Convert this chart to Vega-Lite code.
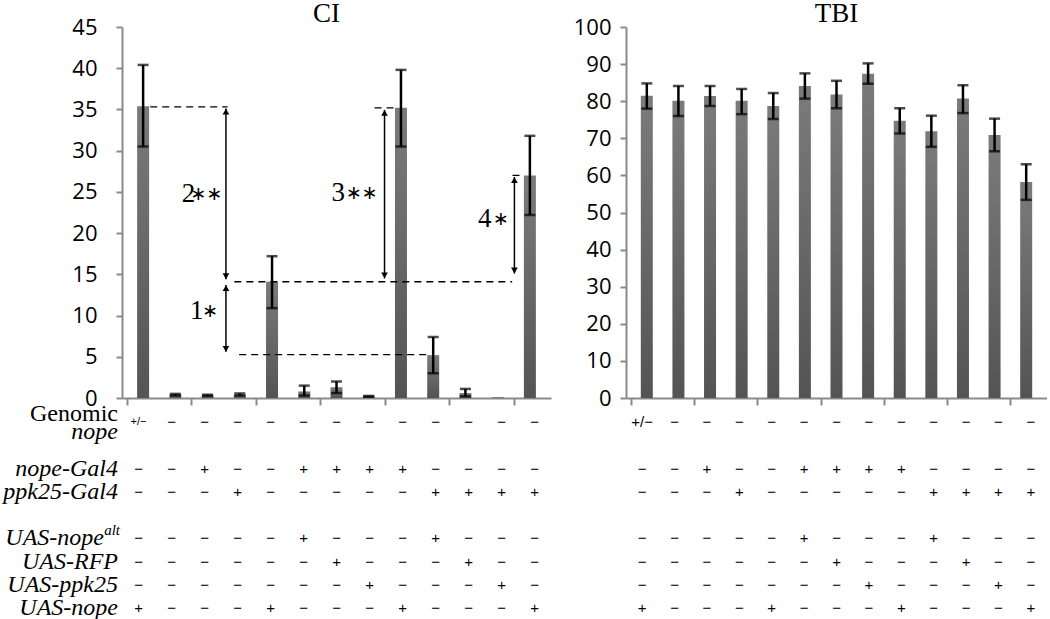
{
  "$schema": "https://vega.github.io/schema/vega-lite/v6.json",
  "background": "white",
  "padding": {"left": 3, "top": 0, "right": 0, "bottom": 0},
  "columns": 2,
  "spacing": {"row": 0, "column": 75},
  "bounds": "flush",
  "align": "each",
  "config": {
    "view": {"stroke": null},
    "axis": {
      "domainColor": "#8a8a8a", "domainWidth": 2,
      "tickColor": "#8a8a8a", "tickWidth": 2,
      "labelFont": "Open Sans", "labelFontSize": 22, "labelColor": "black", "labelOverlap": false,
      "grid": false, "title": null
    },
    "axisY": {"labelOverlap": false, "labelBound": false, "labelFlush": false}
  },
  "datasets": {
    "geno": [
      {"g": 1, "ci": 35.4, "ci_lo": 30.5, "ci_hi": 40.4, "tbi": 81.5, "tbi_lo": 78.0, "tbi_hi": 84.8, "genomic": "+/−", "nope_gal4": "−", "ppk25_gal4": "−", "uas_nope_alt": "−", "uas_rfp": "−", "uas_ppk25": "−", "uas_nope": "+"},
      {"g": 2, "ci": 0.4, "ci_lo": 0.3, "ci_hi": 0.5, "tbi": 80.1, "tbi_lo": 76.0, "tbi_hi": 84.1, "genomic": "−", "nope_gal4": "−", "ppk25_gal4": "−", "uas_nope_alt": "−", "uas_rfp": "−", "uas_ppk25": "−", "uas_nope": "−"},
      {"g": 3, "ci": 0.3, "ci_lo": 0.25, "ci_hi": 0.4, "tbi": 81.4, "tbi_lo": 78.7, "tbi_hi": 84.1, "genomic": "−", "nope_gal4": "+", "ppk25_gal4": "−", "uas_nope_alt": "−", "uas_rfp": "−", "uas_ppk25": "−", "uas_nope": "−"},
      {"g": 4, "ci": 0.4, "ci_lo": 0.3, "ci_hi": 0.55, "tbi": 80.1, "tbi_lo": 76.5, "tbi_hi": 83.3, "genomic": "−", "nope_gal4": "−", "ppk25_gal4": "+", "uas_nope_alt": "−", "uas_rfp": "−", "uas_ppk25": "−", "uas_nope": "−"},
      {"g": 5, "ci": 14.1, "ci_lo": 10.9, "ci_hi": 17.2, "tbi": 78.7, "tbi_lo": 75.2, "tbi_hi": 82.2, "genomic": "−", "nope_gal4": "−", "ppk25_gal4": "−", "uas_nope_alt": "−", "uas_rfp": "−", "uas_ppk25": "−", "uas_nope": "+"},
      {"g": 6, "ci": 0.8, "ci_lo": 0.3, "ci_hi": 1.5, "tbi": 84.1, "tbi_lo": 80.7, "tbi_hi": 87.5, "genomic": "−", "nope_gal4": "+", "ppk25_gal4": "−", "uas_nope_alt": "+", "uas_rfp": "−", "uas_ppk25": "−", "uas_nope": "−"},
      {"g": 7, "ci": 1.3, "ci_lo": 0.6, "ci_hi": 2.0, "tbi": 81.8, "tbi_lo": 78.1, "tbi_hi": 85.5, "genomic": "−", "nope_gal4": "+", "ppk25_gal4": "−", "uas_nope_alt": "−", "uas_rfp": "+", "uas_ppk25": "−", "uas_nope": "−"},
      {"g": 8, "ci": 0.2, "ci_lo": 0.15, "ci_hi": 0.25, "tbi": 87.4, "tbi_lo": 84.7, "tbi_hi": 90.2, "genomic": "−", "nope_gal4": "+", "ppk25_gal4": "−", "uas_nope_alt": "−", "uas_rfp": "−", "uas_ppk25": "+", "uas_nope": "−"},
      {"g": 9, "ci": 35.2, "ci_lo": 30.5, "ci_hi": 39.8, "tbi": 74.7, "tbi_lo": 71.3, "tbi_hi": 78.1, "genomic": "−", "nope_gal4": "+", "ppk25_gal4": "−", "uas_nope_alt": "−", "uas_rfp": "−", "uas_ppk25": "−", "uas_nope": "+"},
      {"g": 10, "ci": 5.2, "ci_lo": 3.0, "ci_hi": 7.4, "tbi": 71.9, "tbi_lo": 67.7, "tbi_hi": 76.1, "genomic": "−", "nope_gal4": "−", "ppk25_gal4": "+", "uas_nope_alt": "+", "uas_rfp": "−", "uas_ppk25": "−", "uas_nope": "−"},
      {"g": 11, "ci": 0.6, "ci_lo": 0.2, "ci_hi": 1.1, "tbi": 80.7, "tbi_lo": 76.8, "tbi_hi": 84.3, "genomic": "−", "nope_gal4": "−", "ppk25_gal4": "+", "uas_nope_alt": "−", "uas_rfp": "+", "uas_ppk25": "−", "uas_nope": "−"},
      {"g": 12, "ci": 0.1, "ci_lo": null, "ci_hi": null, "tbi": 70.9, "tbi_lo": 66.5, "tbi_hi": 75.3, "genomic": "−", "nope_gal4": "−", "ppk25_gal4": "+", "uas_nope_alt": "−", "uas_rfp": "−", "uas_ppk25": "+", "uas_nope": "−"},
      {"g": 13, "ci": 27.0, "ci_lo": 22.2, "ci_hi": 31.8, "tbi": 58.2, "tbi_lo": 53.4, "tbi_hi": 63.0, "genomic": "−", "nope_gal4": "−", "ppk25_gal4": "+", "uas_nope_alt": "−", "uas_rfp": "−", "uas_ppk25": "−", "uas_nope": "+"}
    ]
  },
  "concat": [
    {
      "width": 429, "height": 371,
      "title": {"text": "CI", "font": "Liberation Serif", "fontSize": 27, "fontWeight": "normal", "color": "black", "offset": -12, "dx": -10},
      "layer": [
        {
          "data": {"name": "geno"},
          "mark": {"type": "bar", "orient": "vertical", "size": 12,
            "color": {"gradient": "linear", "x1": 0, "y1": 0, "x2": 0, "y2": 1, "stops": [{"offset": 0, "color": "#7b7b7b"}, {"offset": 1, "color": "#545454"}]}},
          "encoding": {
            "x": {"field": "g", "type": "quantitative", "scale": {"domain": [0.5, 13.5], "nice": false, "zero": false},
              "axis": {"values": [0.5, 1.5, 2.5, 3.5, 4.5, 5.5, 6.5, 7.5, 8.5, 9.5, 10.5, 11.5, 12.5, 13.5], "labels": false, "tickSize": 7}},
            "y": {"field": "ci", "type": "quantitative", "scale": {"domain": [0, 45], "nice": false},
              "axis": {"values": [0, 5, 10, 15, 20, 25, 30, 35, 40, 45], "tickSize": 6, "labelPadding": 19, "labelOverlap": false}}
          }
        },
        {
          "data": {"name": "geno"},
          "mark": {"type": "rule", "color": "black", "strokeWidth": 2.5},
          "encoding": {
            "x": {"field": "g", "type": "quantitative"},
            "y": {"field": "ci_lo", "type": "quantitative"},
            "y2": {"field": "ci_hi"}
          }
        },
        {
          "data": {"name": "geno"},
          "mark": {"type": "tick", "orient": "horizontal", "size": 11, "thickness": 2.5, "color": "black"},
          "encoding": {"x": {"field": "g", "type": "quantitative"}, "y": {"field": "ci_lo", "type": "quantitative"}}
        },
        {
          "data": {"name": "geno"},
          "mark": {"type": "tick", "orient": "horizontal", "size": 11, "thickness": 2.5, "color": "black"},
          "encoding": {"x": {"field": "g", "type": "quantitative"}, "y": {"field": "ci_hi", "type": "quantitative"}}
        },
        {
          "data": {"values": [
            {"x": 1.22, "x2": 3.62, "y": 35.3},
            {"x": 3.83, "x2": 12.45, "y": 14.1},
            {"x": 3.98, "x2": 9.82, "y": 5.25},
            {"x": 8.18, "x2": 8.82, "y": 35.2},
            {"x": 12.46, "x2": 12.82, "y": 27.0}
          ]},
          "mark": {"type": "rule", "color": "black", "strokeWidth": 1.3, "strokeDash": [7, 5]},
          "encoding": {
            "x": {"field": "x", "type": "quantitative"},
            "x2": {"field": "x2"},
            "y": {"field": "y", "type": "quantitative"}
          }
        },
        {
          "data": {"values": [
            {"x": 3.57, "top": 35.1, "bottom": 14.4},
            {"x": 3.57, "top": 13.7, "bottom": 5.6},
            {"x": 8.49, "top": 34.95, "bottom": 14.5},
            {"x": 12.52, "top": 26.8, "bottom": 15.1}
          ]},
          "layer": [
            {
              "mark": {"type": "rule", "color": "black", "strokeWidth": 1.5},
              "encoding": {
                "x": {"field": "x", "type": "quantitative"},
                "y": {"field": "top", "type": "quantitative"},
                "y2": {"field": "bottom"}
              }
            },
            {
              "mark": {"type": "point", "shape": "triangle-up", "filled": true, "color": "black", "size": 45, "opacity": 1, "yOffset": 3},
              "encoding": {
                "x": {"field": "x", "type": "quantitative"},
                "y": {"field": "top", "type": "quantitative"}
              }
            },
            {
              "mark": {"type": "point", "shape": "triangle-down", "filled": true, "color": "black", "size": 45, "opacity": 1, "yOffset": -3},
              "encoding": {
                "x": {"field": "x", "type": "quantitative"},
                "y": {"field": "bottom", "type": "quantitative"}
              }
            }
          ]
        },
        {
          "data": {"values": [
            {"nx": 2.62, "sx": 3.46, "y": 24.75, "n": "2", "s": "∗∗"},
            {"nx": 2.87, "sx": 3.33, "y": 10.6, "n": "1", "s": "∗"},
            {"nx": 7.26, "sx": 8.28, "y": 24.9, "n": "3", "s": "∗∗"},
            {"nx": 11.81, "sx": 12.35, "y": 21.7, "n": "4", "s": "∗"}
          ]},
          "layer": [
            {
              "mark": {"type": "text", "font": "Liberation Serif", "fontSize": 27, "align": "right", "baseline": "middle", "color": "black"},
              "encoding": {
                "x": {"field": "nx", "type": "quantitative"},
                "y": {"field": "y", "type": "quantitative"},
                "text": {"field": "n"}
              }
            },
            {
              "mark": {"type": "text", "font": "DejaVu Sans", "fontSize": 19, "align": "right", "baseline": "middle", "color": "black"},
              "encoding": {
                "x": {"field": "sx", "type": "quantitative"},
                "y": {"field": "y", "type": "quantitative"},
                "text": {"field": "s"}
              }
            }
          ]
        }
      ]
    },
    {
      "width": 421, "height": 371,
      "title": {"text": "TBI", "font": "Liberation Serif", "fontSize": 27, "fontWeight": "normal", "color": "black", "offset": -12},
      "layer": [
        {
          "data": {"name": "geno"},
          "mark": {"type": "bar", "orient": "vertical", "size": 12,
            "color": {"gradient": "linear", "x1": 0, "y1": 0, "x2": 0, "y2": 1, "stops": [{"offset": 0, "color": "#7b7b7b"}, {"offset": 1, "color": "#545454"}]}},
          "encoding": {
            "x": {"field": "g", "type": "quantitative", "scale": {"domain": [0.5, 13.5], "nice": false, "zero": false},
              "axis": {"values": [0.5, 1.5, 2.5, 3.5, 4.5, 5.5, 6.5, 7.5, 8.5, 9.5, 10.5, 11.5, 12.5, 13.5], "labels": false, "tickSize": 7}},
            "y": {"field": "tbi", "type": "quantitative", "scale": {"domain": [0, 100], "nice": false},
              "axis": {"values": [0, 10, 20, 30, 40, 50, 60, 70, 80, 90, 100], "tickCount": 11, "tickSize": 6, "labelPadding": 9, "labelOverlap": false, "labelSeparation": 0, "labelLineHeight": 20}}
          }
        },
        {
          "data": {"name": "geno"},
          "mark": {"type": "rule", "color": "black", "strokeWidth": 2.5},
          "encoding": {
            "x": {"field": "g", "type": "quantitative"},
            "y": {"field": "tbi_lo", "type": "quantitative"},
            "y2": {"field": "tbi_hi"}
          }
        },
        {
          "data": {"name": "geno"},
          "mark": {"type": "tick", "orient": "horizontal", "size": 11, "thickness": 2.5, "color": "black"},
          "encoding": {"x": {"field": "g", "type": "quantitative"}, "y": {"field": "tbi_lo", "type": "quantitative"}}
        },
        {
          "data": {"name": "geno"},
          "mark": {"type": "tick", "orient": "horizontal", "size": 11, "thickness": 2.5, "color": "black"},
          "encoding": {"x": {"field": "g", "type": "quantitative"}, "y": {"field": "tbi_hi", "type": "quantitative"}}
        }
      ]
    },
    {
      "width": 429, "height": 215,
      "layer": [
        {
          "data": {"name": "geno"},
          "transform": [{"fold": ["genomic", "nope_gal4", "ppk25_gal4", "uas_nope_alt", "uas_rfp", "uas_ppk25", "uas_nope"], "as": ["key", "value"]}],
          "mark": {"type": "text", "font": "Liberation Sans", "baseline": "middle", "align": "center", "color": "black"},
          "encoding": {
            "x": {"field": "g", "type": "quantitative", "scale": {"domain": [0.5, 13.5], "nice": false, "zero": false}, "axis": null},
            "y": {"field": "key", "type": "nominal",
              "scale": {"type": "point", "domain": ["genomic", "gap1", "nope_gal4", "ppk25_gal4", "gap2", "uas_nope_alt", "uas_rfp", "uas_ppk25", "uas_nope"], "padding": 0.6237, "align": 0.8276},
              "axis": null},
            "text": {"field": "value"},
            "size": {"condition": {"test": "length(datum.value) > 1", "value": 11}, "value": 15}
          }
        },
        {
          "data": {"values": [
            {"key": "nope_gal4", "label": "nope-Gal4"},
            {"key": "ppk25_gal4", "label": "ppk25-Gal4"},
            {"key": "uas_rfp", "label": "UAS-RFP"},
            {"key": "uas_ppk25", "label": "UAS-ppk25"},
            {"key": "uas_nope", "label": "UAS-nope"}
          ]},
          "mark": {"type": "text", "font": "Liberation Serif", "fontStyle": "italic", "fontSize": 24, "align": "right", "baseline": "middle", "dx": -4, "color": "black"},
          "encoding": {
            "x": {"datum": 0.5, "type": "quantitative"},
            "y": {"field": "key", "type": "nominal"},
            "text": {"field": "label"}
          }
        },
        {
          "data": {"values": [{"key": "genomic", "label": "Genomic"}]},
          "mark": {"type": "text", "font": "Liberation Serif", "fontSize": 24, "align": "right", "baseline": "middle", "dx": -4, "dy": -8, "color": "black"},
          "encoding": {
            "x": {"datum": 0.5, "type": "quantitative"},
            "y": {"field": "key", "type": "nominal"},
            "text": {"field": "label"}
          }
        },
        {
          "data": {"values": [{"key": "genomic", "label": "nope"}]},
          "mark": {"type": "text", "font": "Liberation Serif", "fontStyle": "italic", "fontSize": 24, "align": "right", "baseline": "middle", "dx": -4, "dy": 10, "color": "black"},
          "encoding": {
            "x": {"datum": 0.5, "type": "quantitative"},
            "y": {"field": "key", "type": "nominal"},
            "text": {"field": "label"}
          }
        },
        {
          "data": {"values": [{"key": "uas_nope_alt", "label": "UAS-nope"}]},
          "mark": {"type": "text", "font": "Liberation Serif", "fontStyle": "italic", "fontSize": 24, "align": "right", "baseline": "middle", "dx": -18, "color": "black"},
          "encoding": {
            "x": {"datum": 0.5, "type": "quantitative"},
            "y": {"field": "key", "type": "nominal"},
            "text": {"field": "label"}
          }
        },
        {
          "data": {"values": [{"key": "uas_nope_alt", "label": "alt"}]},
          "mark": {"type": "text", "font": "Liberation Serif", "fontStyle": "italic", "fontSize": 15, "align": "right", "baseline": "middle", "dx": -2, "dy": -8, "color": "black"},
          "encoding": {
            "x": {"datum": 0.5, "type": "quantitative"},
            "y": {"field": "key", "type": "nominal"},
            "text": {"field": "label"}
          }
        }
      ]
    },
    {
      "width": 421, "height": 215,
      "data": {"name": "geno"},
      "transform": [{"fold": ["genomic", "nope_gal4", "ppk25_gal4", "uas_nope_alt", "uas_rfp", "uas_ppk25", "uas_nope"], "as": ["key", "value"]}],
      "mark": {"type": "text", "font": "Liberation Sans", "baseline": "middle", "align": "center", "color": "black"},
      "encoding": {
        "x": {"field": "g", "type": "quantitative", "scale": {"domain": [0.5, 13.5], "nice": false, "zero": false}, "axis": null},
        "y": {"field": "key", "type": "nominal",
          "scale": {"type": "point", "domain": ["genomic", "gap1", "nope_gal4", "ppk25_gal4", "gap2", "uas_nope_alt", "uas_rfp", "uas_ppk25", "uas_nope"], "padding": 0.6237, "align": 0.8276},
          "axis": null},
        "text": {"field": "value"},
        "size": {"value": 15}
      }
    }
  ]
}
